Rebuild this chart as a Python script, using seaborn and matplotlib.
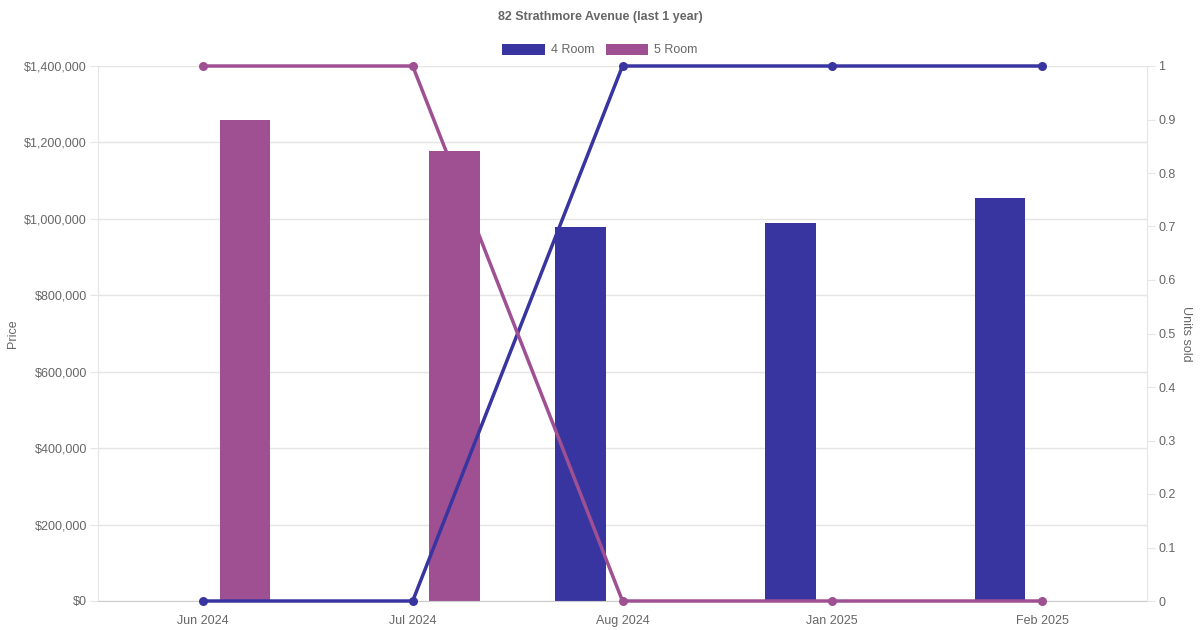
import matplotlib
matplotlib.use('Agg')
import matplotlib.pyplot as plt
import matplotlib.ticker as mticker
from matplotlib.patches import Patch
import seaborn as sns
import pandas as pd
import numpy as np

months = ["Jun 2024", "Jul 2024", "Aug 2024", "Jan 2025", "Feb 2025"]
room_types = ["4 Room", "5 Room"]

# median price per month (0 = no sale)
price_4room = [0, 0, 980000, 989000, 1055000]
price_5room = [1259000, 1178000, 0, 0, 0]

# units sold per month
units_4room = [0, 0, 1, 1, 1]
units_5room = [1, 1, 0, 0, 0]

colours = {"4 Room": "#3835a0", "5 Room": "#9f5093"}
grey = "#666666"

sns.set_style("white")
plt.rcParams['font.family'] = ['Liberation Sans', 'DejaVu Sans']

price_df = pd.DataFrame({
    "month": months * 2,
    "type": ["4 Room"] * len(months) + ["5 Room"] * len(months),
    "price": price_4room + price_5room,
})

fig = plt.figure(figsize=(12, 6.3), dpi=100)
ax = fig.add_axes([98 / 1200, 1 - 601 / 630, (1147 - 98) / 1200, (601 - 66) / 630])

sns.barplot(data=price_df, x="month", y="price", hue="type", order=months,
            hue_order=room_types, palette=colours, width=0.8, dodge=True,
            saturation=1, legend=False, ax=ax, zorder=2)

# narrow bars like the original (keep their centres)
for p in ax.patches:
    c = p.get_x() + p.get_width() / 2
    p.set_width(0.24)
    p.set_x(c - 0.12)
    p.set_edgecolor("none")

ax.set_xlim(-0.5, len(months) - 0.5)
ax.set_ylim(0, 1400000)
ax.set_yticks(np.arange(0, 1400001, 200000))
ax.yaxis.set_major_formatter(mticker.FuncFormatter(lambda v, _: f"${v:,.0f}"))
ax.grid(axis="y", color="#e5e5e5", linewidth=1, zorder=0)
ax.set_axisbelow(True)
ax.set_xlabel("")
ax.set_ylabel("Price", color=grey, fontsize=9, labelpad=4)
ax.tick_params(axis="y", colors="#e5e5e5", labelcolor=grey, labelsize=9, length=6, pad=2)
ax.tick_params(axis="x", colors="#e5e5e5", labelcolor=grey, labelsize=9, length=6, pad=4)
for s in ["top", "right"]:
    ax.spines[s].set_visible(False)
ax.spines["left"].set_color("#e5e5e5")
ax.spines["bottom"].set_color("#cccccc")

ax2 = ax.twinx()
idx = np.arange(len(months))
sns.lineplot(x=idx, y=units_4room, color=colours["4 Room"], linewidth=2.5,
             marker="o", markersize=6.5, markeredgewidth=0, ax=ax2, zorder=5,
             clip_on=False)
sns.lineplot(x=idx, y=units_5room, color=colours["5 Room"], linewidth=2.5,
             marker="o", markersize=6.5, markeredgewidth=0, ax=ax2, zorder=5,
             clip_on=False)
ax2.set_ylim(0, 1)
ax2.set_yticks(np.arange(0, 1.01, 0.1))
ax2.yaxis.set_major_formatter(mticker.FuncFormatter(lambda v, _: f"{v:g}"))
ax2.set_ylabel("Units sold", color=grey, fontsize=9, rotation=270, labelpad=12)
ax2.tick_params(axis="y", colors="#e5e5e5", labelcolor=grey, labelsize=9, length=6, pad=2)
for s in ["top", "left", "bottom"]:
    ax2.spines[s].set_visible(False)
ax2.spines["right"].set_color("#e5e5e5")
ax2.set_xlim(-0.5, len(months) - 0.5)

fig.text(0.5, 1 - 17 / 630, "82 Strathmore Avenue (last 1 year)", ha="center",
         va="center", fontsize=9, fontweight="bold", color=grey)

handles = [Patch(facecolor=colours[t], edgecolor="none", label=t) for t in room_types]
fig.legend(handles=handles, loc="center", bbox_to_anchor=(0.5, 1 - 50 / 630), ncol=2,
           frameon=False, fontsize=9, labelcolor=grey, handlelength=3.4,
           handleheight=1.0, handletextpad=0.5, columnspacing=0.9)

fig.savefig("out.png", dpi=100)
